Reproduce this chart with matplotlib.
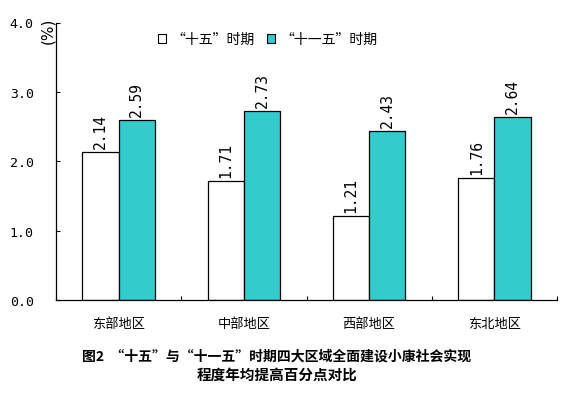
import matplotlib
matplotlib.use("Agg")
import matplotlib.pyplot as plt
from matplotlib.patches import Patch
import numpy as np

plt.rcParams['font.family'] = ['Noto Sans CJK SC', 'DejaVu Sans']

categories = ["东部地区", "中部地区", "西部地区", "东北地区"]
series_names = ["“十五”时期", "“十一五”时期"]
values_10th = [2.14, 1.71, 1.21, 1.76]
values_11th = [2.59, 2.73, 2.43, 2.64]
yticks = [0.0, 1.0, 2.0, 3.0, 4.0]
ytick_labels = ["0.0", "1.0", "2.0", "3.0", "4.0"]
unit_label = "(%)"
title_line1 = "图2  “十五”与“十一五”时期四大区域全面建设小康社会实现"
title_line2 = "程度年均提高百分点对比"

W, H = 564, 406
fig = plt.figure(figsize=(W / 100, H / 100), dpi=100)
ax = fig.add_axes([56 / W, (H - 301) / H, (557 - 56) / W, (301 - 23.5) / H])

x = np.arange(len(categories))
w = 0.29
teal = "#33CCCC"
ax.bar(x - w / 2, values_10th, width=w, color="white", edgecolor="black", linewidth=0.9)
ax.bar(x + w / 2, values_11th, width=w, color=teal, edgecolor="black", linewidth=0.9)

num_font = dict(family=["DejaVu Sans Mono"], fontsize=10.5)
for xi, v in zip(x - w / 2, values_10th):
    ax.annotate(f"{v:.2f}", (xi, v), xytext=(0, 4), textcoords="offset pixels",
                rotation=90, ha="center", va="bottom", **num_font)
for xi, v in zip(x + w / 2, values_11th):
    ax.annotate(f"{v:.2f}", (xi, v), xytext=(0, 4), textcoords="offset pixels",
                rotation=90, ha="center", va="bottom", **num_font)

ax.set_xlim(-0.5, len(categories) - 0.5)
ax.set_ylim(0, 4.0)
ax.set_yticks(yticks)
ax.set_yticklabels(ytick_labels, family=["DejaVu Sans Mono"], fontsize=9.5)
ax.tick_params(axis="y", direction="in", length=3, width=0.8, pad=16)

ax.set_xticks(x)
ax.set_xticklabels(categories, fontsize=9.5)
ax.tick_params(axis="x", which="major", length=0, pad=12)
ax.set_xticks(np.arange(-0.5, len(categories)), minor=True)
ax.tick_params(axis="x", which="minor", direction="in", length=3, width=0.8)

for s in ["top", "right"]:
    ax.spines[s].set_visible(False)
for s in ["left", "bottom"]:
    ax.spines[s].set_linewidth(0.9)

fig.text(48 / W, (H - 31) / H, unit_label, rotation=90, ha="center", va="center",
         fontsize=11, family=["DejaVu Sans"])

handles = [Patch(facecolor="white", edgecolor="black", linewidth=0.8),
           Patch(facecolor=teal, edgecolor="black", linewidth=0.8)]
fig.legend(handles, series_names, loc="center left",
           bbox_to_anchor=(158 / W, (H - 40) / H), ncol=2, frameon=False,
           fontsize=10, handlelength=0.6, handleheight=0.6, handletextpad=0.35,
           columnspacing=0.9, borderpad=0, borderaxespad=0)

fig.text(277 / W, (H - 357) / H, title_line1, ha="center", va="center",
         fontsize=10, fontweight="bold")
fig.text(277 / W, (H - 375) / H, title_line2, ha="center", va="center",
         fontsize=10.5, fontweight="bold")

fig.savefig("out.png", dpi=100)
